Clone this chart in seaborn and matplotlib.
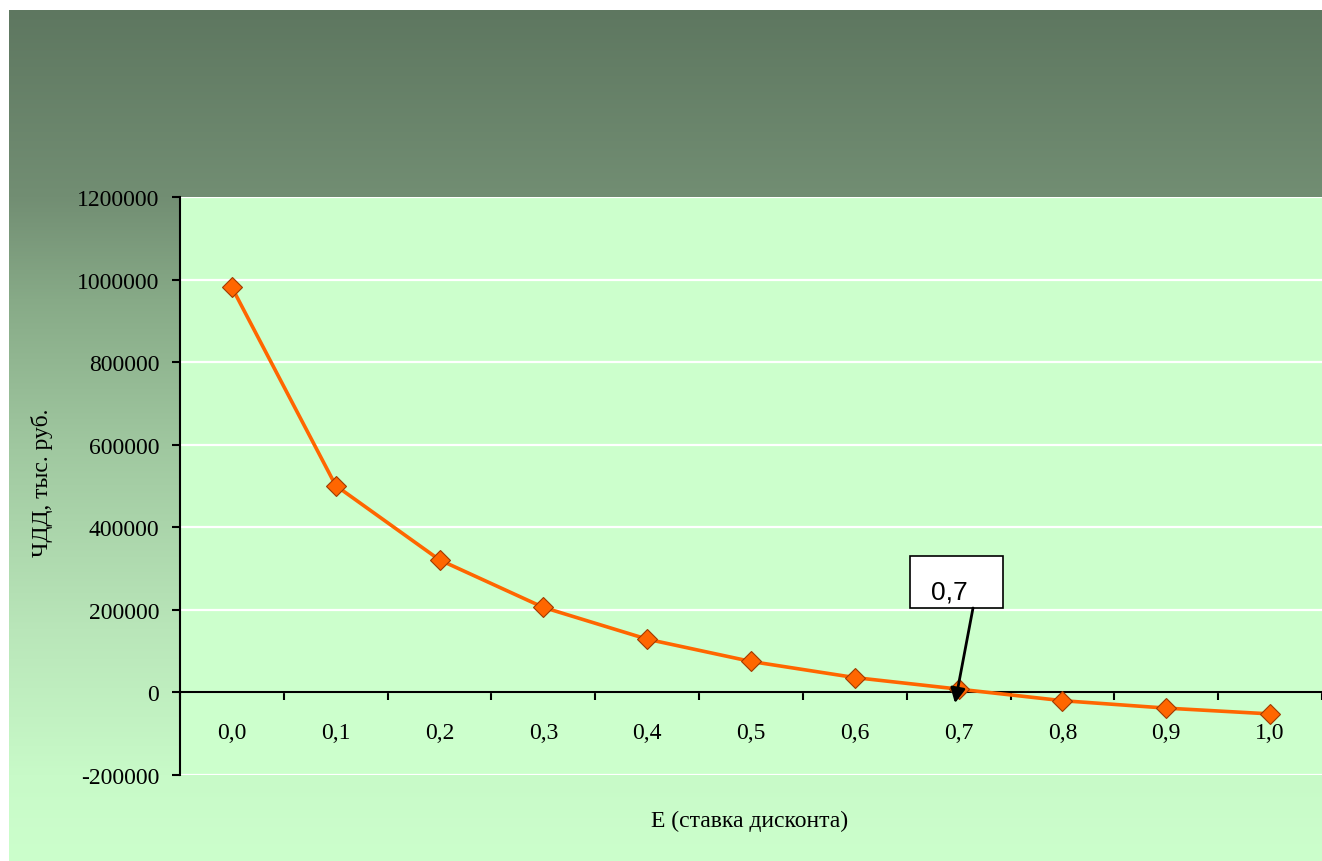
import numpy as np
import pandas as pd
import matplotlib.pyplot as plt
from matplotlib.patches import Rectangle
import seaborn as sns

# данные графика
stavka = ["0,0", "0,1", "0,2", "0,3", "0,4", "0,5", "0,6", "0,7", "0,8", "0,9", "1,0"]
chdd = [981000, 501000, 321000, 206000, 129000, 75000, 36000, 8000, -20000, -38000, -52000]
y_ticks = [-200000, 0, 200000, 400000, 600000, 800000, 1000000, 1200000]

df = pd.DataFrame({"poz": np.arange(len(stavka)), "chdd": chdd})

sns.set_theme(style="white")
plt.rcParams['font.family'] = ['Liberation Serif', 'DejaVu Serif']

W, H = 1322, 862
fig = plt.figure(figsize=(W / 100, H / 100), dpi=100, facecolor='#CCFFCC')

# градиентный фон
fon = fig.add_axes([9 / W, 0, 1 - 9 / W, (H - 11) / H])
pix = np.arange(H - 11)
stops = np.array([0, 187, 289, 439, 619, 765, 851])
r = np.interp(pix, stops, [94, 114, 135, 160, 185, 200, 204])
g = np.interp(pix, stops, [119, 142, 170, 200, 230, 250, 255])
b = np.interp(pix, stops, [96, 115, 135, 160, 185, 200, 204])
grad = np.stack([r, g, b], axis=-1)[:, None, :] / 255.0
fon.imshow(grad, aspect='auto', extent=[0, 1, 0, 1], interpolation='bilinear')
fon.axis('off')

# белая рамка сверху и слева
fig.patches.append(Rectangle((0, (H - 11) / H), 1, 11 / H, transform=fig.transFigure,
                             facecolor='white', edgecolor='none', zorder=10))
fig.patches.append(Rectangle((0, 0), 9 / W, 1, transform=fig.transFigure,
                             facecolor='white', edgecolor='none', zorder=10))

ax = fig.add_axes([180 / W, 86 / H, (W - 180) / W, 578 / H])
ax.set_facecolor('#CCFFCC')

sns.lineplot(data=df, x="poz", y="chdd", marker='D', markersize=10.5,
             color='#FF6600', linewidth=2.6, markeredgecolor='#A03A00',
             markeredgewidth=0.8, ax=ax, zorder=3)

ax.set_xlim(-0.5, len(stavka) - 0.5)
ax.set_ylim(-200000, 1200000)

ax.set_yticks(y_ticks)
ax.set_yticklabels([str(v) for v in y_ticks])
ax.set_xticks(df["poz"])
ax.set_xticklabels(stavka)
ax.set_xticks(np.arange(-0.5, len(stavka), 1), minor=True)

ax.yaxis.grid(True, color='white', linewidth=1.6)
ax.xaxis.grid(False)

for s in ['top', 'right']:
    ax.spines[s].set_visible(False)
ax.spines['left'].set_color('black')
ax.spines['left'].set_linewidth(1.5)
ax.spines['bottom'].set_color('black')
ax.spines['bottom'].set_linewidth(1.5)
ax.spines['bottom'].set_position(('data', 0))

ax.tick_params(axis='y', which='major', left=True, length=6, width=1.5,
               direction='out', color='black', pad=9, labelsize=17, labelcolor='black')
ax.tick_params(axis='x', which='major', bottom=True, length=0, pad=21,
               labelsize=17, labelcolor='black')
ax.tick_params(axis='x', which='minor', bottom=True, length=6, width=1.5,
               direction='out', color='black')

ax.set_xlabel("E (ставка дисконта)", fontsize=17, color='black', va='center')
ax.xaxis.set_label_coords(0.499, -0.078)
ax.set_ylabel("ЧДД, тыс. руб.", fontsize=17, color='black', va='center')
ax.yaxis.set_label_coords(-0.121, 0.508)

# выноска 0,7
ax.add_patch(Rectangle((0.639, 0.2889), 0.0815, 0.090, transform=ax.transAxes,
                       facecolor='white', edgecolor='black', linewidth=1.2,
                       zorder=6, clip_on=False))
ax.text(0.6576, 0.3045, "0,7", transform=ax.transAxes, fontsize=19,
        family=['Liberation Sans', 'DejaVu Sans'], va='baseline', ha='left',
        color='black', zorder=7)
ax.annotate("", xy=(6.965, -26000), xycoords='data',
            xytext=(0.6944, 0.2889), textcoords='axes fraction',
            arrowprops=dict(arrowstyle='-|>', color='black', lw=2,
                            mutation_scale=22, shrinkA=0, shrinkB=0),
            zorder=7)

fig.savefig("out.png", dpi=100, facecolor=fig.get_facecolor())
